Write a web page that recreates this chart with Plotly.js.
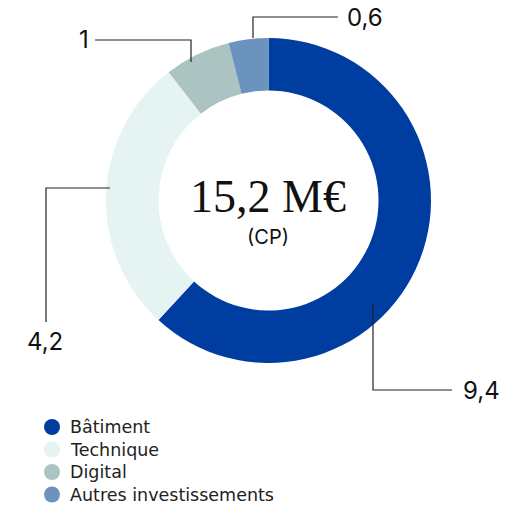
<!DOCTYPE html>
<html><head><meta charset="utf-8">
<script src="https://cdn.plot.ly/plotly-3.0.1.min.js"></script>
<style>html,body{margin:0;padding:0;background:#fff}#c{width:507px;height:508px}</style>
</head><body><div id="c"></div>
<script>
const categories = ["Bâtiment", "Technique", "Digital", "Autres investissements"];
const values = [9.4, 4.2, 1, 0.6];
const valueLabels = ["9,4", "4,2", "1", "0,6"];
const colors = ["#003DA0", "#E5F3F3", "#ABC4C1", "#6C93BD"];
const totalLabel = "15,2 M€";
const subLabel = "(CP)";

const W = 507, H = 508;
const px = x => x / W, py = y => 1 - y / H;
const sans = "Inter, Roboto, 'Liberation Sans', sans-serif";
const legendFont = "'DejaVu Sans', Inter, sans-serif";

const traces = [{
  type: "pie",
  labels: categories,
  values: values,
  sort: false,
  direction: "clockwise",
  rotation: 0,
  hole: 0.677,
  textinfo: "none",
  hoverinfo: "none",
  showlegend: false,
  marker: {colors: colors, line: {width: 0}},
  domain: {x: [px(106), px(431)], y: [py(363), py(38)]}
}];

// leader lines (elbows)
const leaders = [
  [[373, 304], [373, 390], [452, 390]],
  [[110, 188], [46, 188], [46, 322]],
  [[191, 62], [191, 40], [95, 40]],
  [[253, 38], [253, 17], [338, 17]]
];
const shapes = leaders.map(p => ({
  type: "path", xref: "paper", yref: "paper",
  path: "M " + p.map(q => px(q[0]) + "," + py(q[1])).join(" L "),
  line: {color: "#222", width: 1.2}
}));
const labelPos = [[481, 390], [45, 341], [84, 40], [365, 17]];
const annotations = valueLabels.map((t, i) => ({
  text: t, x: px(labelPos[i][0]), y: py(labelPos[i][1]), xref: "paper", yref: "paper",
  showarrow: false, xanchor: "center", yanchor: "middle",
  font: {family: sans, size: 24, color: "#111"}
}));
annotations.push({text: totalLabel, x: px(268), y: py(196), xref: "paper", yref: "paper",
  showarrow: false, xanchor: "center", yanchor: "middle",
  font: {family: "'Liberation Serif', 'DejaVu Serif', serif", size: 46, color: "#111"}});
annotations.push({text: subLabel, x: px(268), y: py(237), xref: "paper", yref: "paper",
  showarrow: false, xanchor: "center", yanchor: "middle",
  font: {family: sans, size: 20, color: "#111"}});

// legend (circle + text per category)
const legendX = 52, legendY0 = 427, legendStep = 22.5, legendR = 8;
categories.forEach((c, i) => {
  const cy = legendY0 + i * legendStep;
  shapes.push({type: "circle", xref: "paper", yref: "paper",
    x0: px(legendX - legendR), x1: px(legendX + legendR),
    y0: py(cy + legendR), y1: py(cy - legendR),
    fillcolor: colors[i], line: {width: 0}});
  annotations.push({text: c, x: px(legendX + 16), y: py(cy), xref: "paper", yref: "paper",
    showarrow: false, xanchor: "left", yanchor: "middle",
    font: {family: legendFont, size: 17.5, color: "#222"}});
});

const layout = {
  width: W, height: H,
  margin: {l: 0, r: 0, t: 0, b: 0},
  paper_bgcolor: "#fff", plot_bgcolor: "#fff",
  showlegend: false,
  shapes: shapes,
  annotations: annotations
};
Plotly.newPlot("c", traces, layout, {staticPlot: true, displayModeBar: false});
</script></body></html>
